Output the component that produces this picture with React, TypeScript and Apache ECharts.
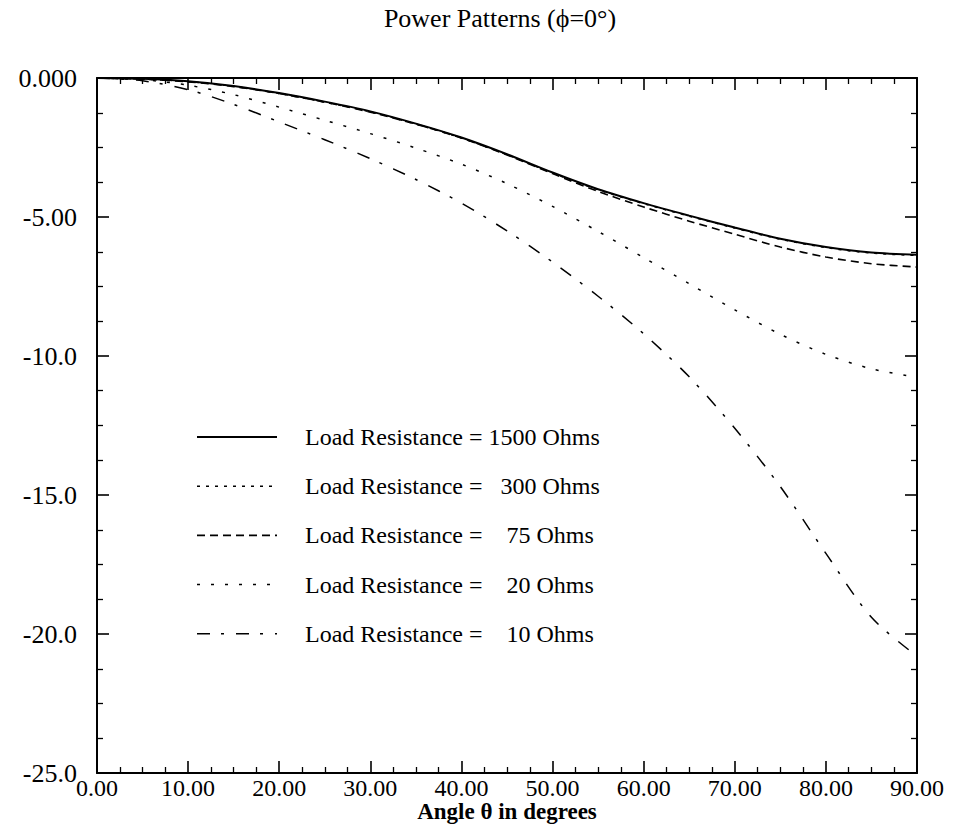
import React, { useEffect, useRef } from "react";
import * as echarts from "echarts";

// Angle theta (degrees) at which every pattern is sampled
const angles = [0, 5, 10, 15, 20, 25, 30, 35, 40, 45, 50, 55, 60, 65, 70, 75, 80, 85, 90];

// Relative power (dB) for each load resistance
const load1500 = [0, -0.03, -0.12, -0.29, -0.54, -0.85, -1.2, -1.64, -2.14, -2.74, -3.4, -4.0, -4.5, -4.95, -5.38, -5.78, -6.08, -6.28, -6.36];
const load300 = [0, -0.04, -0.13, -0.3, -0.56, -0.87, -1.22, -1.66, -2.16, -2.76, -3.42, -4.02, -4.52, -4.97, -5.4, -5.8, -6.1, -6.3, -6.38];
const load75 = [0, -0.04, -0.14, -0.31, -0.56, -0.87, -1.23, -1.66, -2.16, -2.77, -3.44, -4.08, -4.64, -5.15, -5.62, -6.08, -6.44, -6.68, -6.8];
const load20 = [0, -0.06, -0.26, -0.6, -1.05, -1.52, -2.0, -2.52, -3.1, -3.8, -4.62, -5.52, -6.46, -7.4, -8.34, -9.22, -9.94, -10.46, -10.76];
const load10 = [0, -0.1, -0.42, -0.95, -1.58, -2.22, -2.9, -3.65, -4.5, -5.5, -6.62, -7.85, -9.2, -10.75, -12.6, -14.7, -17.1, -19.4, -20.8];

const seriesNames = [
  "Load Resistance = 1500 Ohms",
  "Load Resistance =   300 Ohms",
  "Load Resistance =    75 Ohms",
  "Load Resistance =    20 Ohms",
  "Load Resistance =    10 Ohms",
];
const seriesValues = [load1500, load300, load75, load20, load10];
const dashPatterns: (number[] | null)[] = [null, [3, 6], [8, 5], [3, 11], [13, 11, 3, 12]];
const lineWidths = [2, 1.5, 1.6, 1.5, 1.5];

// Tick labels
const xTickLabels: Record<string, string> = {
  "0": "0.00", "10": "10.00", "20": "20.00", "30": "30.00", "40": "40.00",
  "50": "50.00", "60": "60.00", "70": "70.00", "80": "80.00", "90": "90.00",
};
const yTickLabels: Record<string, string> = {
  "0": "0.000", "-5": "-5.00", "-10": "-10.0", "-15": "-15.0", "-20": "-20.0", "-25": "-25.0",
};

const FONT = "'Liberation Serif', 'DejaVu Serif', serif";

// Legend placement (page pixels)
const LEGEND_LINE_X0 = 197;
const LEGEND_LINE_X1 = 277;
const LEGEND_TEXT_X = 305;
const LEGEND_ROW0 = 437;
const LEGEND_ROW_STEP = 49.2;

export default function App() {
  const ref = useRef<HTMLDivElement>(null);

  useEffect(() => {
    if (!ref.current) return;
    const chart = echarts.init(ref.current, undefined, { renderer: "svg" });

    const tickCommon = {
      axisLine: { show: true, onZero: false, lineStyle: { color: "#000", width: 2 } },
      axisTick: { show: true, inside: true, length: 12, lineStyle: { color: "#000", width: 1.6 } },
      minorTick: { show: true, splitNumber: 4, length: 6, lineStyle: { color: "#000", width: 1.3 } },
      splitLine: { show: false },
    };
    const xBase = { type: "value", min: 0, max: 90, interval: 10, ...tickCommon };
    const yBase = { type: "value", min: -25, max: 0, interval: 5, ...tickCommon };

    const legendGraphics: any[] = [];
    seriesNames.forEach((name, i) => {
      const y = LEGEND_ROW0 + i * LEGEND_ROW_STEP;
      legendGraphics.push({
        type: "line",
        shape: { x1: LEGEND_LINE_X0, y1: y, x2: LEGEND_LINE_X1, y2: y },
        style: {
          stroke: "#000",
          lineWidth: lineWidths[i],
          lineDash: dashPatterns[i] ?? undefined,
        },
      });
      legendGraphics.push({
        type: "text",
        x: LEGEND_TEXT_X,
        y,
        style: {
          text: name,
          font: `24px ${FONT}`,
          fill: "#000",
          textAlign: "left",
          textVerticalAlign: "middle",
        },
      });
    });

    chart.setOption({
      animation: false,
      backgroundColor: "#fff",
      textStyle: { fontFamily: FONT },
      grid: { left: 97, right: 49, top: 78, bottom: 54, containLabel: false },
      graphic: [
        {
          type: "text",
          x: 500,
          y: 18,
          style: {
            text: "Power Patterns (\u03d5=0\u00b0)",
            font: `26px ${FONT}`,
            fill: "#000",
            textAlign: "center",
            textVerticalAlign: "middle",
          },
        },
        {
          type: "text",
          x: 507,
          y: 811,
          style: {
            text: "Angle \u03b8 in degrees",
            font: `bold 23px ${FONT}`,
            fill: "#000",
            textAlign: "center",
            textVerticalAlign: "middle",
          },
        },
        ...legendGraphics,
      ],
      xAxis: [
        {
          ...xBase,
          position: "bottom",
          axisLabel: {
            show: true,
            margin: 3,
            fontFamily: FONT,
            fontSize: 24,
            color: "#000",
            formatter: (v: number) => xTickLabels[String(v)] ?? "",
          },
        },
        { ...xBase, position: "top", axisLabel: { show: false } },
      ],
      yAxis: [
        {
          ...yBase,
          position: "left",
          axisLabel: {
            show: true,
            margin: 20,
            fontFamily: FONT,
            fontSize: 26,
            color: "#000",
            formatter: (v: number) => yTickLabels[String(v)] ?? "",
          },
        },
        { ...yBase, position: "right", axisLabel: { show: false } },
      ],
      series: seriesNames.map((name, i) => ({
        name,
        type: "line",
        xAxisIndex: 0,
        yAxisIndex: 0,
        data: angles.map((a, j) => [a, seriesValues[i][j]]),
        smooth: 0.3,
        symbol: "none",
        showSymbol: false,
        lineStyle: {
          color: "#000",
          width: lineWidths[i],
          type: dashPatterns[i] ?? "solid",
        },
      })),
    });

    return () => chart.dispose();
  }, []);

  return (
    <div
      ref={ref}
      style={{ position: "absolute", left: 0, top: 0, width: 966, height: 827 }}
    />
  );
}
